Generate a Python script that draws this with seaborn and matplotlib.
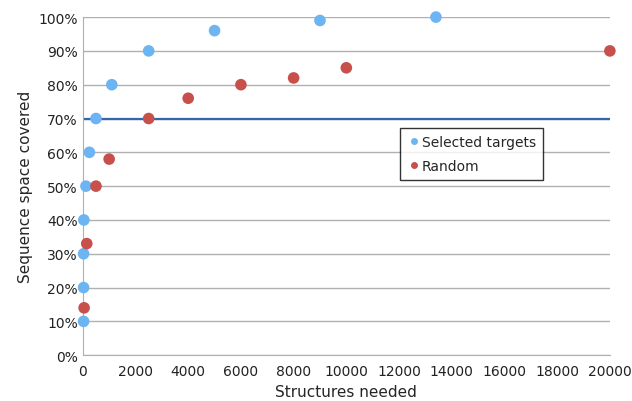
import numpy as np
import pandas as pd
import seaborn as sns
import matplotlib.pyplot as plt
from matplotlib.ticker import PercentFormatter

# data
sel_x = [30, 30, 30, 40, 120, 250, 500, 1100, 2500, 5000, 9000, 13400]
sel_y = [10, 20, 30, 40, 50, 60, 70, 80, 90, 96, 99, 100]
rnd_x = [50, 150, 500, 1000, 2500, 4000, 6000, 8000, 10000, 20000]
rnd_y = [14, 33, 50, 58, 70, 76, 80, 82, 85, 90]
threshold = 70

df = pd.concat([
    pd.DataFrame({"x": sel_x, "y": sel_y, "series": "Selected targets"}),
    pd.DataFrame({"x": rnd_x, "y": rnd_y, "series": "Random"}),
])

sns.set_style("white")
plt.rcParams['font.family'] = ['DejaVu Sans']

fig = plt.figure(figsize=(6.32, 4.02), dpi=100)
ax = fig.add_axes([0.131, 0.114, 0.834, 0.841])

ax.axhline(threshold, color="#3366aa", lw=1.6, zorder=2)

sns.scatterplot(data=df, x="x", y="y", hue="series",
                palette={"Selected targets": "#6cb4f2", "Random": "#c8504c"},
                s=70, edgecolor="none", ax=ax, zorder=3, clip_on=False)

ax.set_xlim(0, 20000)
ax.set_ylim(0, 100)
ax.set_xticks(np.arange(0, 20001, 2000))
ax.set_yticks(np.arange(0, 101, 10))
ax.yaxis.set_major_formatter(PercentFormatter(decimals=0))
ax.grid(axis="y", color="#b0b0b0", lw=1)
ax.set_axisbelow(True)
for s in ["top", "right"]:
    ax.spines[s].set_visible(False)
for s in ["left", "bottom"]:
    ax.spines[s].set_color("#b0b0b0")
ax.tick_params(axis="x", length=3, color="#b0b0b0", labelsize=10, labelcolor="#222222")
ax.tick_params(axis="y", length=0, labelsize=10, labelcolor="#222222")
ax.set_xlabel("Structures needed", fontsize=11)
ax.set_ylabel("Sequence space covered", fontsize=11)

leg = ax.legend(loc="upper left", bbox_to_anchor=(0.588, 0.692), frameon=True,
                fancybox=False, edgecolor="black", fontsize=10,
                handletextpad=0.1, borderpad=0.5, labelspacing=0.7,
                markerscale=0.6, handlelength=1.0)
leg.get_frame().set_linewidth(1.0)

fig.savefig("out.png", dpi=100)
